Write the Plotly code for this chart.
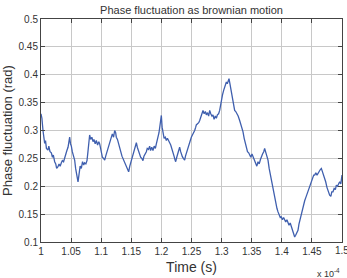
import plotly.graph_objects as go

title_text = "Phase fluctuation as brownian motion"
x_label = "Time (s)"
y_label = "Phase fluctuation (rad)"
x_ticks = [1, 1.05, 1.1, 1.15, 1.2, 1.25, 1.3, 1.35, 1.4, 1.45, 1.5]
x_tick_labels = ["1", "1.05", "1.1", "1.15", "1.2", "1.25", "1.3", "1.35", "1.4", "1.45", "1.5"]
y_ticks = [0.1, 0.15, 0.2, 0.25, 0.3, 0.35, 0.4, 0.45, 0.5]
y_tick_labels = ["0.1", "0.15", "0.2", "0.25", "0.3", "0.35", "0.4", "0.45", "0.5"]

# time in units of 1e-4 s
time_e4 = [
1.000,1.0015,1.0033,1.0045,1.0061,1.0075,1.0090,1.0116,1.0130,1.0150,1.0172,1.0190,1.0205,1.0227,1.0245,1.0260,1.0282,1.0300,1.0318,1.0338,
1.0355,1.0375,1.0393,1.0410,1.0430,1.0449,1.0465,1.0476,1.0490,1.0504,1.0520,1.0540,1.0559,1.0575,1.0595,1.0615,1.0630,1.0650,1.0670,1.0690,
1.0710,1.0725,1.0745,1.0764,1.0780,1.0795,1.0808,1.0825,1.0845,1.0864,1.0880,1.0900,1.0919,1.0940,1.0960,1.0975,1.0990,1.1002,1.1020,1.1040,
1.1058,1.1075,1.1095,1.1113,1.1130,1.1150,1.1168,1.1185,1.1205,1.1224,1.1240,1.1251,1.1270,1.1290,1.1307,1.1325,1.1345,1.1362,1.1380,1.1400,
1.1417,1.1435,1.1456,1.1475,1.1490,1.1501,1.1520,1.1540,1.1556,1.1570,1.1584,1.1600,1.1620,1.1639,1.1655,1.1675,1.1694,1.1710,1.1730,1.1750,
1.1765,1.1785,1.1805,1.1820,1.1840,1.1860,1.1880,1.1900,1.1916,1.1935,1.1960,1.1980,1.1999,1.2012,1.2027,1.2045,1.2065,1.2082,1.2100,1.2120,
1.2137,1.2155,1.2175,1.2193,1.2210,1.2225,1.2237,1.2255,1.2276,1.2290,1.2303,1.2320,1.2335,1.2348,1.2365,1.2386,1.2400,1.2420,1.2442,1.2460,
1.2480,1.2497,1.2515,1.2535,1.2553,1.2570,1.2580,1.2600,1.2620,1.2636,1.2655,1.2672,1.2691,1.2710,1.2730,1.2746,1.2765,1.2785,1.2802,1.2820,
1.2840,1.2857,1.2875,1.2895,1.2913,1.2930,1.2950,1.2968,1.2985,1.2996,1.3015,1.3034,1.3055,1.3079,1.3095,1.3110,1.3123,1.3135,1.3145,1.3160,
1.3178,1.3195,1.3217,1.3235,1.3256,1.3275,1.3300,1.3325,1.3355,1.3375,1.3395,1.3411,1.3430,1.3450,1.3466,1.3485,1.3505,1.3522,1.3545,1.3566,
1.3585,1.3605,1.3625,1.3645,1.3660,1.3680,1.3700,1.3715,1.3730,1.3750,1.3771,1.3790,1.3810,1.3826,1.3845,1.3865,1.3882,1.3900,1.3920,1.3937,
1.3955,1.3975,1.3992,1.4010,1.4030,1.4048,1.4065,1.4085,1.4103,1.4120,1.4140,1.4158,1.4175,1.4195,1.4214,1.4230,1.4250,1.4269,1.4285,1.4305,
1.4324,1.4340,1.4360,1.4380,1.4400,1.4420,1.4435,1.4455,1.4470,1.4490,1.4510,1.4530,1.4546,1.4565,1.4585,1.4601,1.4620,1.4640,1.4657,1.4670,
1.4684,1.4705,1.4729,1.4750,1.4770,1.4795,1.4815,1.4830,1.4850,1.4870,1.4890,1.4906,1.4925,1.4945,1.4961,1.4980,1.5000]

phase_rad = [
0.330,0.322,0.300,0.290,0.277,0.282,0.268,0.265,0.272,0.262,0.260,0.252,0.256,0.244,0.240,0.232,0.235,0.240,0.236,0.242,
0.246,0.244,0.252,0.258,0.264,0.270,0.282,0.288,0.276,0.272,0.262,0.256,0.247,0.232,0.222,0.208,0.220,0.236,0.232,0.244,
0.238,0.242,0.240,0.246,0.262,0.280,0.292,0.284,0.288,0.280,0.284,0.276,0.282,0.274,0.280,0.276,0.268,0.258,0.252,0.250,
0.247,0.254,0.262,0.266,0.276,0.282,0.288,0.294,0.288,0.300,0.296,0.288,0.284,0.274,0.270,0.262,0.254,0.250,0.244,0.240,
0.236,0.230,0.226,0.236,0.242,0.248,0.252,0.262,0.266,0.274,0.278,0.270,0.264,0.258,0.252,0.250,0.246,0.254,0.258,0.262,
0.268,0.266,0.272,0.264,0.270,0.264,0.272,0.268,0.276,0.284,0.296,0.312,0.327,0.306,0.292,0.286,0.288,0.282,0.286,0.280,
0.278,0.274,0.268,0.262,0.254,0.248,0.244,0.252,0.260,0.266,0.270,0.262,0.256,0.253,0.250,0.247,0.254,0.262,0.270,0.276,
0.282,0.288,0.292,0.296,0.300,0.306,0.310,0.312,0.314,0.318,0.326,0.330,0.336,0.330,0.334,0.328,0.332,0.326,0.336,0.330,
0.326,0.328,0.320,0.326,0.322,0.328,0.330,0.336,0.348,0.354,0.364,0.372,0.380,0.387,0.384,0.390,0.393,0.386,0.380,0.372,
0.360,0.350,0.336,0.334,0.330,0.326,0.318,0.310,0.298,0.286,0.276,0.270,0.262,0.260,0.256,0.252,0.258,0.253,0.246,0.240,
0.236,0.244,0.240,0.248,0.253,0.258,0.262,0.268,0.262,0.256,0.247,0.232,0.220,0.211,0.200,0.190,0.181,0.170,0.160,0.154,
0.150,0.144,0.145,0.140,0.144,0.139,0.136,0.140,0.133,0.130,0.134,0.127,0.122,0.116,0.109,0.112,0.116,0.121,0.132,0.142,
0.150,0.158,0.166,0.174,0.180,0.186,0.190,0.198,0.204,0.208,0.216,0.220,0.220,0.224,0.220,0.223,0.228,0.230,0.232,0.228,
0.223,0.216,0.208,0.198,0.192,0.184,0.182,0.190,0.190,0.196,0.194,0.202,0.200,0.206,0.208,0.204,0.220]

font_family = "Liberation Sans, Arial, sans-serif"
text_color = "#333333"

fig = go.Figure()
fig.add_trace(go.Scatter(x=time_e4, y=phase_rad, mode="lines",
                         line=dict(color="#3f5fae", width=1.3), showlegend=False))

axis_common = dict(showline=True, linecolor="#444444", linewidth=1, mirror="ticks",
                   ticks="inside", ticklen=4, tickcolor="#444444",
                   showgrid=True, gridcolor="#c8c8c8", gridwidth=1, zeroline=False,
                   tickfont=dict(family=font_family, size=10, color=text_color))

# last x tick label is placed as an annotation so that it can run past the edge
shown_x_labels = x_tick_labels[:-1] + [""]

fig.update_xaxes(range=[1, 1.5], tickvals=x_ticks, ticktext=shown_x_labels,
                 title=dict(text=x_label, font=dict(family=font_family, size=14, color=text_color), standoff=6),
                 **axis_common)
fig.update_yaxes(range=[0.1, 0.5], tickvals=y_ticks, ticktext=y_tick_labels,
                 title=dict(text=y_label, font=dict(family=font_family, size=13, color=text_color), standoff=4),
                 **axis_common)

fig.update_layout(
    width=347, height=278,
    margin=dict(l=41, r=5, t=19, b=36),
    paper_bgcolor="white", plot_bgcolor="white",
    title=dict(text=title_text, x=0.552, xanchor="center", y=0.965, yanchor="middle",
               font=dict(family=font_family, size=11, color=text_color)),
    annotations=[
        dict(text=x_tick_labels[-1], xref="x", yref="paper", x=x_ticks[-1], y=0,
             xanchor="center", yanchor="top", yshift=-1, showarrow=False,
             font=dict(family=font_family, size=10, color=text_color)),
        dict(text="x 10<sup>-4</sup>", xref="paper", yref="paper", x=1.0, y=-0.105,
             xanchor="right", yanchor="top", showarrow=False,
             font=dict(family=font_family, size=9, color=text_color)),
    ],
)

fig.write_html("out.html")
